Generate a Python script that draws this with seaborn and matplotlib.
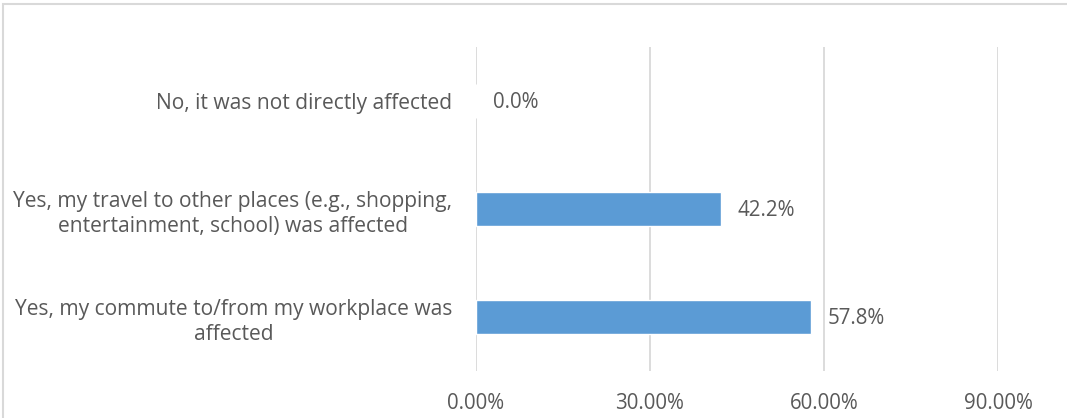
import matplotlib
matplotlib.use("Agg")
import matplotlib.pyplot as plt
import seaborn as sns
import pandas as pd
from matplotlib.patches import Rectangle

categories = [
    "No, it was not directly affected",
    "Yes, my travel to other places (e.g., shopping,\nentertainment, school) was affected",
    "Yes, my commute to/from my workplace was\naffected",
]
values = [0.0, 42.2, 57.8]
xticks = [0, 30, 60, 90]
xtick_labels = ["0.00%", "30.00%", "60.00%", "90.00%"]

sns.set_theme(style="white")
plt.rcParams['font.family'] = ['Open Sans', 'DejaVu Sans']
text_color = "#595959"

fig = plt.figure(figsize=(10.67, 4.18), dpi=100)
ax = fig.add_axes([476/1067, 1-371/418, (998-476)/1067, (371-47)/418])

df = pd.DataFrame({"category": categories, "value": values})
sns.barplot(data=df, x="value", y="category", orient="h", color="#5B9BD5",
            saturation=1, width=0.31, ax=ax, zorder=3)

ax.set_xlim(0, 90)
ax.set_xticks(xticks)
ax.set_xticklabels(xtick_labels, fontsize=14.8, color=text_color)
ax.tick_params(axis='x', length=0, pad=16)
ax.tick_params(axis='y', length=0, pad=17)
for lbl in ax.get_yticklabels():
    lbl.set_fontsize(15.1)
    lbl.set_color(text_color)
    lbl.set_multialignment('center')
    lbl.set_linespacing(1.3)
ax.set_xlabel("")
ax.set_ylabel("")
for s in ax.spines.values():
    s.set_visible(False)
ax.grid(axis='x', color="#D9D9D9", linewidth=1.3, zorder=0)
ax.set_axisbelow(True)

for i, v in enumerate(values):
    ax.annotate(f"{v:.1f}%", xy=(v, i), xytext=(12, -1), textcoords="offset points",
                va="center", ha="left", fontsize=14.8, color=text_color)

fig.patches.append(Rectangle((3/1067, -0.1), 1.2, (1-4/418)+0.1, transform=fig.transFigure,
                             fill=False, edgecolor="#D9D9D9", linewidth=1.5))

fig.savefig("out.png", dpi=100)
